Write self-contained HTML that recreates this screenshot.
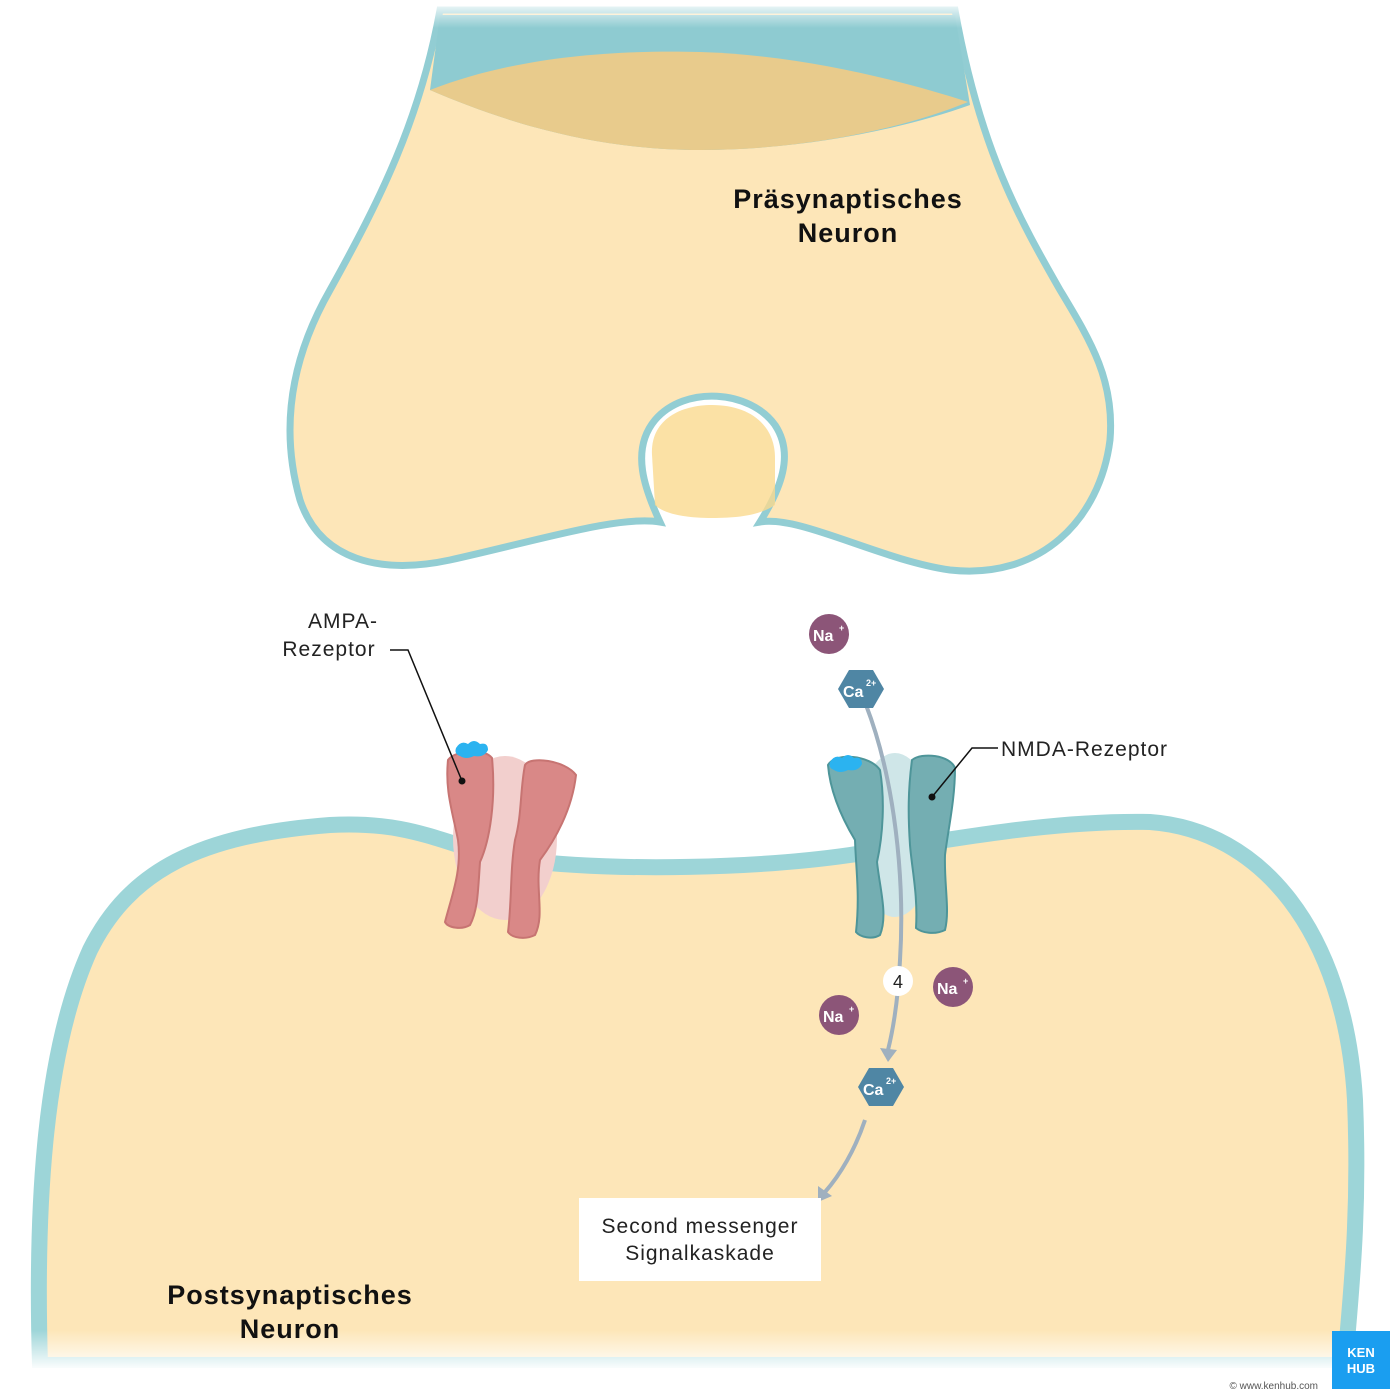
<!DOCTYPE html>
<html><head><meta charset="utf-8"><style>
body{margin:0;background:#fff}
svg{display:block}
text{font-family:"Liberation Sans",sans-serif}
</style></head><body>
<svg width="1400" height="1400" viewBox="0 0 1400 1400" xmlns="http://www.w3.org/2000/svg">
<defs>
<linearGradient id="fb" x1="0" y1="0" x2="0" y2="1"><stop offset="0" stop-color="#fff" stop-opacity="0"/><stop offset="1" stop-color="#fff" stop-opacity="1"/></linearGradient>
<linearGradient id="ft" x1="0" y1="1" x2="0" y2="0"><stop offset="0" stop-color="#fff" stop-opacity="0"/><stop offset="1" stop-color="#fff" stop-opacity="1"/></linearGradient>
</defs>
<!-- presynaptic -->
<path d="M440,10 C420,120 380,200 330,290 C290,360 280,430 300,500 C320,560 380,575 450,560 C540,540 620,515 660,522 C645,490 630,450 655,420 C685,385 750,390 775,425 C795,455 780,490 760,522 C800,515 880,560 950,570 C1040,580 1100,520 1110,440 C1115,380 1090,340 1060,290 C1020,220 980,150 955,10 Z" fill="#fde6b8" stroke="#92cdd3" stroke-width="7"/>
<path d="M652,455 C650,420 680,405 712,405 C750,405 775,425 775,458 L775,505 C760,515 740,518 712,518 C690,518 665,515 655,505 Z" fill="#fad98f" opacity="0.8"/>
<path d="M440,15 L955,15 L970,105 C900,130 800,150 700,150 C590,150 500,120 430,90 Z" fill="#8ecbd1"/>
<path d="M430,90 C520,55 620,50 700,52 C800,55 900,80 968,102 C900,130 800,150 700,150 C590,150 500,120 430,90 Z" fill="#e8cb8c"/>
<rect x="420" y="0" width="560" height="28" fill="url(#ft)"/>
<!-- postsynaptic -->
<path d="M40,1365 C35,1200 45,1050 90,950 C130,870 200,835 330,825 C420,820 450,850 520,860 C620,872 760,868 850,855 C950,840 1050,820 1150,822 C1260,830 1345,930 1355,1100 C1360,1220 1350,1300 1345,1365 Z" fill="#fde6b8" stroke="#9dd5d8" stroke-width="16"/>
<rect x="20" y="1330" width="1360" height="40" fill="url(#fb)"/>
<rect x="20" y="1368" width="1360" height="32" fill="#fff"/>
<!-- AMPA -->
<ellipse cx="505" cy="838" rx="52" ry="82" fill="#f2cfcd"/>
<path d="M448,760 C455,750 485,748 492,758 C496,800 490,840 480,862 C478,890 478,910 470,925 C462,930 448,928 445,922 C452,895 462,870 458,840 C452,810 445,790 448,760 Z" fill="#d98887" stroke="#c77472" stroke-width="2"/>
<path d="M525,765 C530,756 565,760 576,775 C572,810 555,840 540,860 C535,890 545,915 535,935 C525,940 512,938 508,932 C512,900 510,870 515,840 C522,815 520,790 525,765 Z" fill="#d98887" stroke="#c77472" stroke-width="2"/>
<path d="M456,748 q5,-8 12,-4 q6,-6 12,0 q8,-2 8,6 q-4,8 -14,6 q-8,4 -14,0 q-6,-2 -4,-8z" fill="#2bb3f0"/>
<!-- NMDA -->
<ellipse cx="895" cy="835" rx="40" ry="82" fill="#cfe6e8"/>
<path d="M828,765 C835,752 870,755 880,770 C885,800 883,835 877,862 C880,890 888,915 880,935 C872,940 860,937 856,932 C860,895 856,870 855,840 C840,815 830,790 828,765 Z" fill="#74aeb2" stroke="#4e9599" stroke-width="2"/>
<path d="M912,760 C922,752 950,755 955,768 C955,800 948,830 945,855 C944,885 950,910 945,930 C935,935 922,933 916,928 C918,895 912,870 910,845 C908,815 908,790 912,760 Z" fill="#74aeb2" stroke="#4e9599" stroke-width="2"/>
<path d="M830,762 q5,-8 12,-4 q6,-6 12,0 q8,-2 8,6 q-4,8 -14,6 q-8,4 -14,0 q-6,-2 -4,-8z" fill="#2bb3f0"/>
<!-- arrows -->
<path d="M866,705 C895,780 905,880 900,960 C898,1000 893,1030 888,1050" fill="none" stroke="#9fb0bf" stroke-width="4"/>
<path d="M880,1048 L888,1062 L897,1050 Z" fill="#9fb0bf"/>
<path d="M865,1120 C855,1150 840,1175 825,1192" fill="none" stroke="#9fb0bf" stroke-width="4"/>
<path d="M818,1186 L818,1202 L832,1196 Z" fill="#9fb0bf"/>
<!-- ions -->
<g font-weight="bold" fill="#fff">
<circle cx="829" cy="634" r="20" fill="#8c5578"/><text x="813" y="641" font-size="16" fill="#fff">Na</text><text x="839" y="631" font-size="9" fill="#fff">+</text>
<circle cx="953" cy="987" r="20" fill="#8c5578"/><text x="937" y="994" font-size="16" fill="#fff">Na</text><text x="963" y="984" font-size="9" fill="#fff">+</text>
<circle cx="839" cy="1015" r="20" fill="#8c5578"/><text x="823" y="1022" font-size="16" fill="#fff">Na</text><text x="849" y="1012" font-size="9" fill="#fff">+</text>
<polygon points="849,670 873,670 884,689 873,708 849,708 838,689" fill="#4f86a4"/><text x="843" y="697" font-size="16" fill="#fff">Ca</text><text x="866" y="686" font-size="9" fill="#fff">2+</text>
<polygon points="869,1068 893,1068 904,1087 893,1106 869,1106 858,1087" fill="#4f86a4"/><text x="863" y="1095" font-size="16" fill="#fff">Ca</text><text x="886" y="1084" font-size="9" fill="#fff">2+</text>
</g>
<circle cx="898" cy="981" r="15" fill="#fff"/><text x="898" y="988" font-size="18" text-anchor="middle" fill="#222">4</text>
<!-- labels -->
<g fill="#222" font-size="21" letter-spacing="1">
<text x="343" y="628" text-anchor="middle">AMPA-</text>
<text x="329" y="656" text-anchor="middle">Rezeptor</text>
<text x="1001" y="756">NMDA-Rezeptor</text>
</g>
<path d="M390,650 L408,650 L462,781" fill="none" stroke="#111" stroke-width="1.5"/>
<circle cx="462" cy="781" r="3.5" fill="#111"/>
<path d="M998,748 L972,748 L932,797" fill="none" stroke="#111" stroke-width="1.5"/>
<circle cx="932" cy="797" r="3.5" fill="#111"/>
<g font-size="27" font-weight="bold" fill="#111" text-anchor="middle" letter-spacing="1">
<text x="848" y="208">Präsynaptisches</text><text x="848" y="242">Neuron</text>
<text x="290" y="1304">Postsynaptisches</text><text x="290" y="1338">Neuron</text>
</g>
<rect x="579" y="1198" width="242" height="83" fill="#fff"/>
<g font-size="21" fill="#222" text-anchor="middle" letter-spacing="1"><text x="700" y="1233">Second messenger</text><text x="700" y="1260">Signalkaskade</text></g>
<rect x="1332" y="1331" width="58" height="58" fill="#1a9ef0"/>
<text x="1361" y="1357" font-size="13" font-weight="bold" fill="#fff" text-anchor="middle">KEN</text>
<text x="1361" y="1373" font-size="13" font-weight="bold" fill="#fff" text-anchor="middle">HUB</text>
<text x="1318" y="1389" font-size="10" fill="#555" text-anchor="end">© www.kenhub.com</text>
</svg>
</body></html>
